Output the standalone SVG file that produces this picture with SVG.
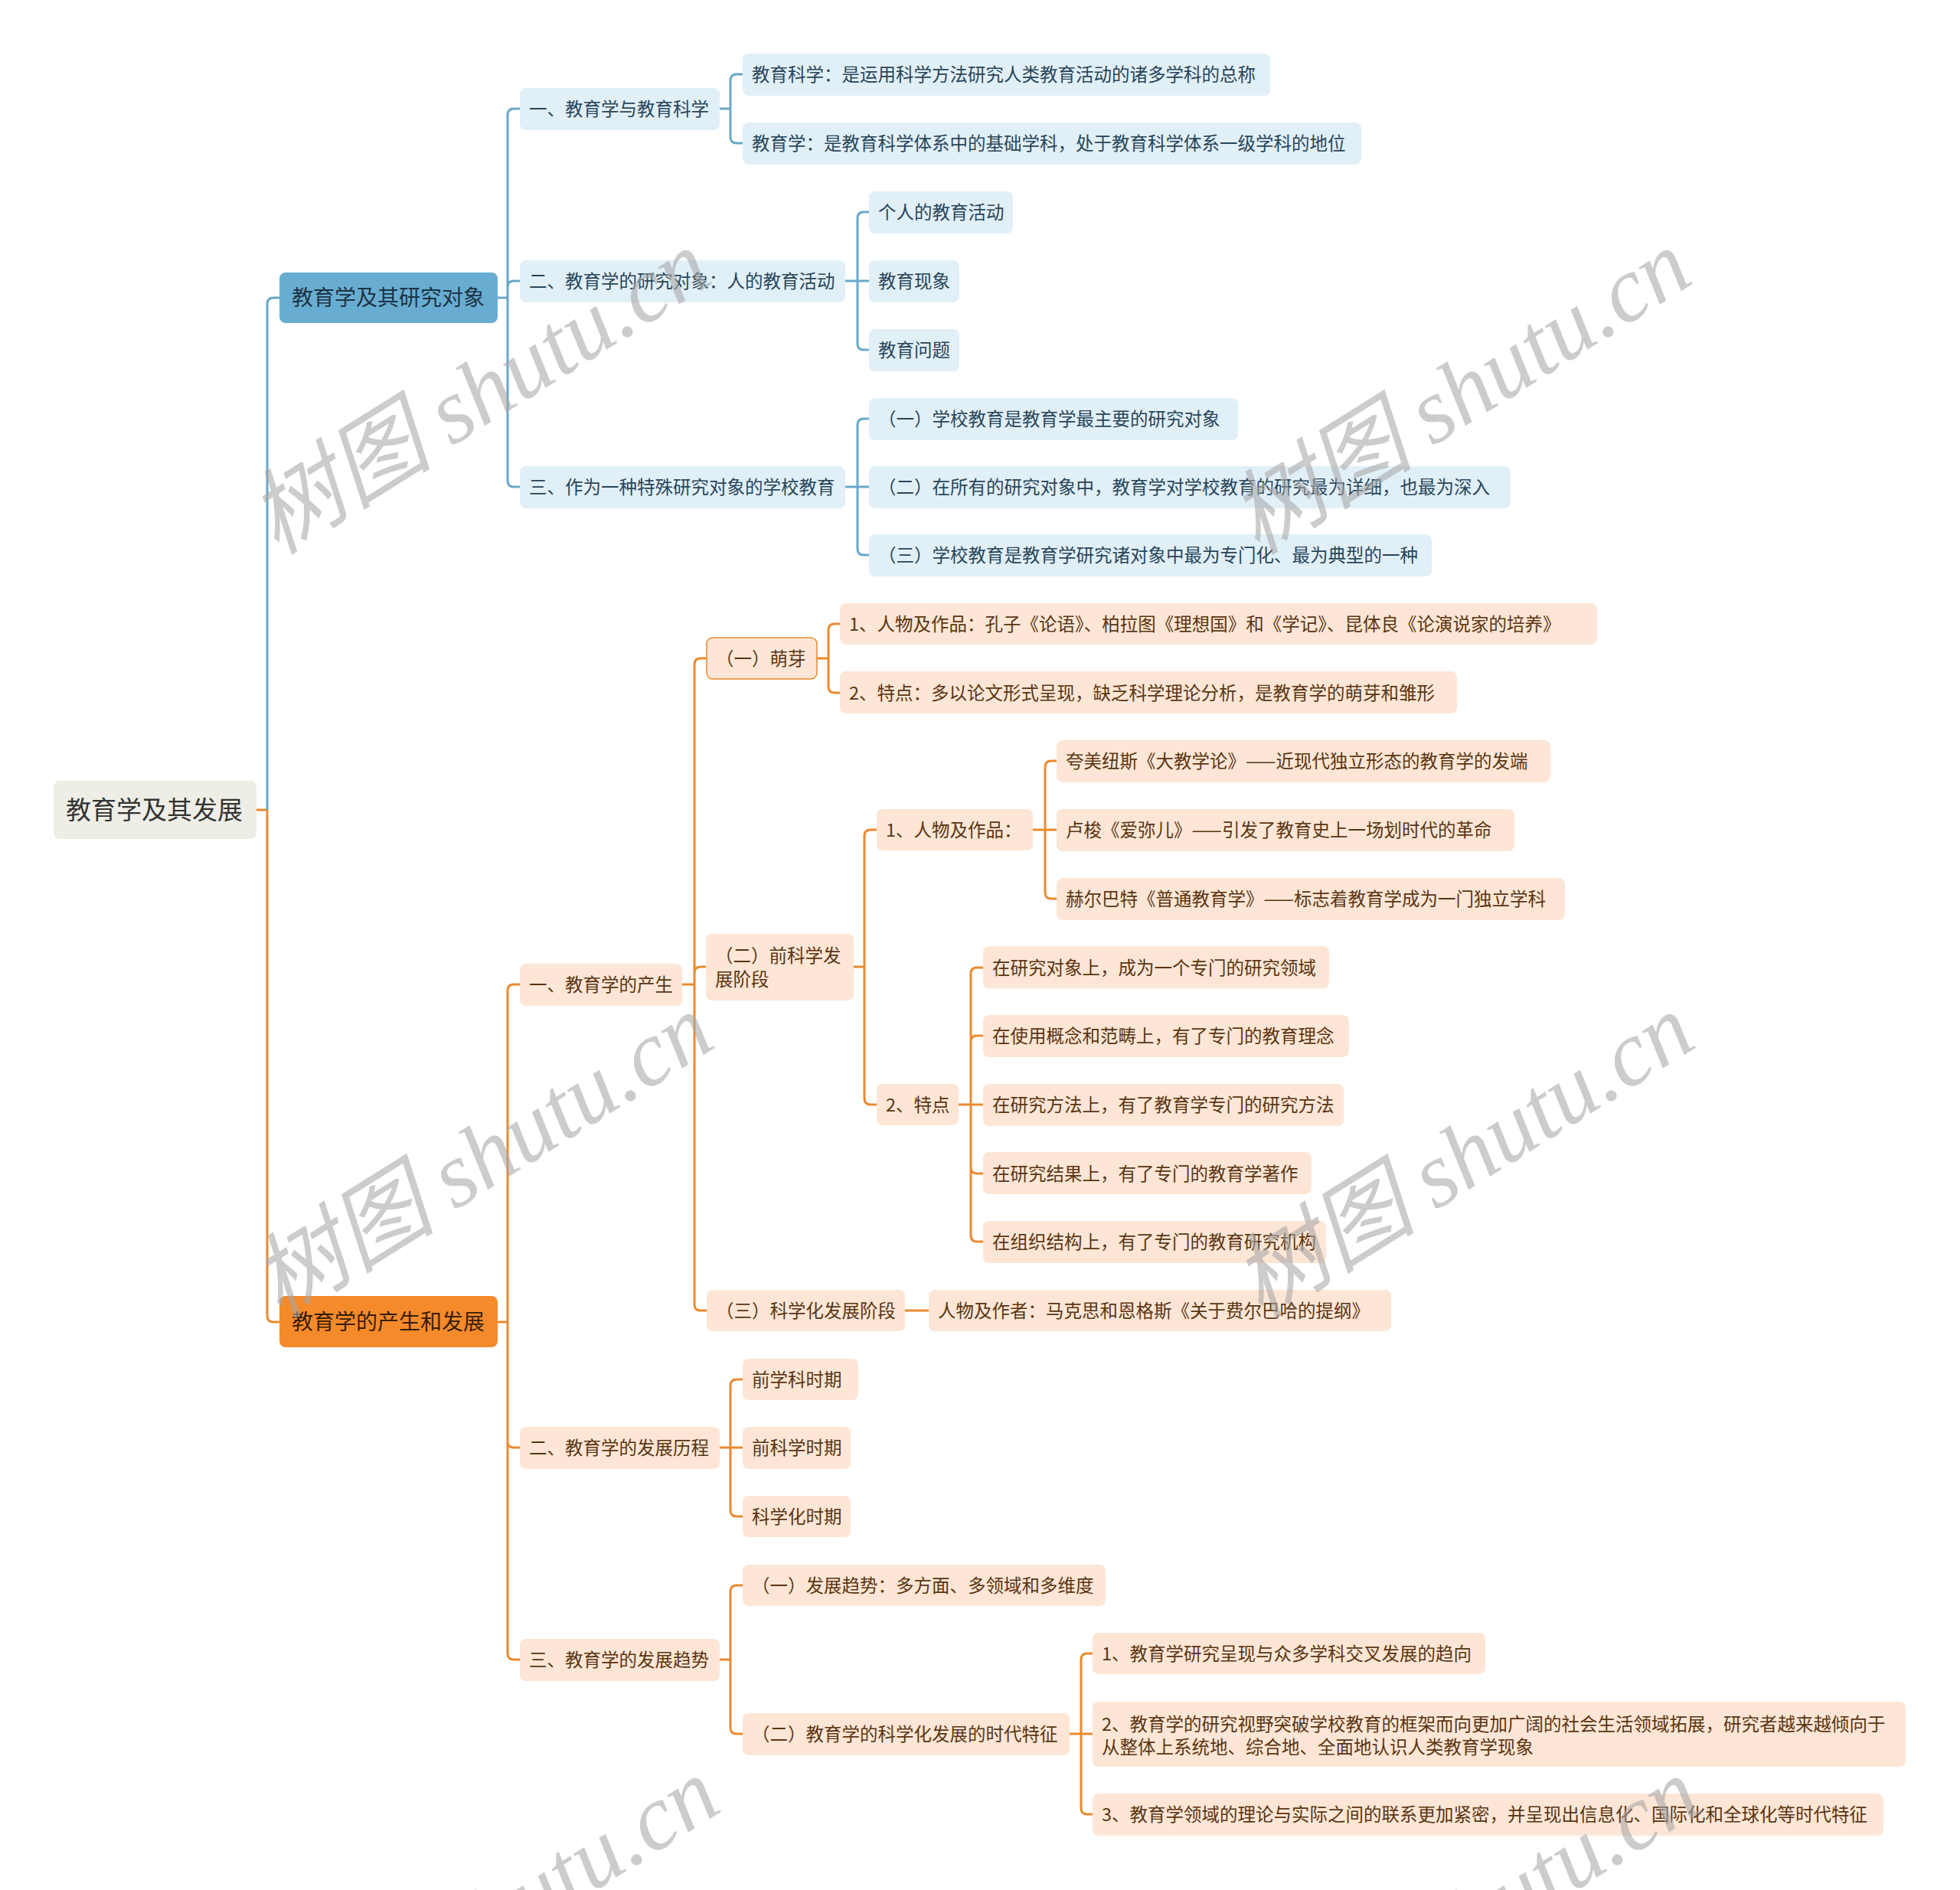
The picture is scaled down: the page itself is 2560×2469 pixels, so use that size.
<svg xmlns="http://www.w3.org/2000/svg" width="2560" height="2469" viewBox="0 0 2560 2469">
<style>
text{font-family:"Noto Sans CJK SC","Noto Sans",sans-serif;}
.root{fill:#eeeee6}
.rt{font-size:33px;fill:#333333}
.bl1{fill:#68add1}
.ol1{fill:#f58a2b}
.t1{font-size:28px}
.bt1{fill:#1c3345}
.ot1{fill:#3a1e05}
.bn{fill:#e1eff7}
.on{fill:#fde6d5}
.onb{fill:#fde6d5;stroke:#e8892e;stroke-width:1.5}
.bt{font-size:23.5px;fill:#284659}
.ot{font-size:23.5px;fill:#5a3513}
.cb{fill:none;stroke:#69a8c8;stroke-width:3}
.co{fill:none;stroke:#ea8a2f;stroke-width:3}
.wm{font-size:121px;fill:#a8a8a8;opacity:0.58;font-style:italic}
</style>
<rect width="2560" height="2469" fill="#ffffff"/>
<g id="connectors">
<path class="co" d="M335,1058 H349"/>
<path class="cb" d="M349,1058 V397 Q349,389 357,389 H365"/>
<path class="co" d="M349,1058 V1719 Q349,1727 357,1727 H365"/>
<path class="cb" d="M650,389 H663 M663,389 V150 Q663,142 671,142 H679 M663,389 V375 Q663,367 671,367 H679 M663,389 V628 Q663,636 671,636 H679"/>
<path class="cb" d="M940,142 H954 M954,142 V105 Q954,97 962,97 H970 M954,142 V179 Q954,187 962,187 H970"/>
<path class="cb" d="M1104,367 H1135 M1120,367 V285 Q1120,277 1128,277 H1135 M1120,367 V449 Q1120,457 1128,457 H1135"/>
<path class="cb" d="M1104,636 H1135 M1120,636 V555 Q1120,547 1128,547 H1135 M1120,636 V717 Q1120,725 1128,725 H1135"/>
<path class="co" d="M650,1727 H663 M663,1727 V1294 Q663,1286 671,1286 H679 M663,1727 V1883 Q663,1891 671,1891 H679 M663,1727 V2160 Q663,2168 671,2168 H679"/>
<path class="co" d="M891,1286 H907 M907,1286 V868 Q907,860 915,860 H923 M907,1286 V1271 Q907,1263 915,1263 H922 M907,1286 V1704 Q907,1712 915,1712 H923"/>
<path class="co" d="M1067,860 H1082 M1082,860 V823 Q1082,815 1090,815 H1097 M1082,860 V897 Q1082,905 1090,905 H1097"/>
<path class="co" d="M1115,1263 H1129 M1129,1263 V1092 Q1129,1084 1137,1084 H1145 M1129,1263 V1435 Q1129,1443 1137,1443 H1145"/>
<path class="co" d="M1349,1084 H1380 M1365,1084 V1002 Q1365,994 1373,994 H1380 M1365,1084 V1166 Q1365,1174 1373,1174 H1380"/>
<path class="co" d="M1252,1443 H1284 M1268,1443 V1272 Q1268,1264 1276,1264 H1284 M1268,1443 V1361 Q1268,1353 1276,1353 H1284 M1268,1443 V1525 Q1268,1533 1276,1533 H1284 M1268,1443 V1614 Q1268,1622 1276,1622 H1284"/>
<path class="co" d="M1182,1712 H1213"/>
<path class="co" d="M939,1891 H970 M954,1891 V1810 Q954,1802 962,1802 H970 M954,1891 V1973 Q954,1981 962,1981 H970"/>
<path class="co" d="M939,2168 H954 M954,2168 V2079 Q954,2071 962,2071 H970 M954,2168 V2257 Q954,2265 962,2265 H970"/>
<path class="co" d="M1397,2265 H1427 M1412,2265 V2168 Q1412,2160 1420,2160 H1427 M1412,2265 V2362 Q1412,2370 1420,2370 H1427"/>
</g>
<g id="n_root"><rect class="root" x="70" y="1020" width="265" height="76" rx="8"/><text class="rt" x="86" y="1070">教育学及其发展</text></g>
<g id="n_b1"><rect class="bl1" x="365" y="356" width="285" height="66" rx="8"/><text class="t1 bt1" x="381" y="399">教育学及其研究对象</text></g>
<g id="n_b2_1"><rect class="bn" x="679" y="115" width="261" height="55" rx="8"/><text class="bt" x="691" y="151">一、教育学与教育科学</text></g>
<g id="n_b2_2"><rect class="bn" x="679" y="340" width="425" height="55" rx="8"/><text class="bt" x="691" y="376">二、教育学的研究对象：人的教育活动</text></g>
<g id="n_b2_3"><rect class="bn" x="679" y="609" width="425" height="55" rx="8"/><text class="bt" x="691" y="645">三、作为一种特殊研究对象的学校教育</text></g>
<g id="n_b3_1"><rect class="bn" x="970" y="70" width="689" height="55" rx="8"/><text class="bt" x="982" y="106">教育科学：是运用科学方法研究人类教育活动的诸多学科的总称</text></g>
<g id="n_b3_2"><rect class="bn" x="970" y="160" width="808" height="55" rx="8"/><text class="bt" x="982" y="196">教育学：是教育科学体系中的基础学科，处于教育科学体系一级学科的地位</text></g>
<g id="n_b3_3"><rect class="bn" x="1135" y="250" width="188" height="55" rx="8"/><text class="bt" x="1147" y="286">个人的教育活动</text></g>
<g id="n_b3_4"><rect class="bn" x="1135" y="340" width="118" height="55" rx="8"/><text class="bt" x="1147" y="376">教育现象</text></g>
<g id="n_b3_5"><rect class="bn" x="1135" y="430" width="118" height="55" rx="8"/><text class="bt" x="1147" y="466">教育问题</text></g>
<g id="n_b3_6"><rect class="bn" x="1135" y="520" width="482" height="55" rx="8"/><text class="bt" x="1147" y="556">（一）学校教育是教育学最主要的研究对象</text></g>
<g id="n_b3_7"><rect class="bn" x="1135" y="609" width="838" height="55" rx="8"/><text class="bt" x="1147" y="645">（二）在所有的研究对象中，教育学对学校教育的研究最为详细，也最为深入</text></g>
<g id="n_b3_8"><rect class="bn" x="1135" y="698" width="735" height="55" rx="8"/><text class="bt" x="1147" y="734">（三）学校教育是教育学研究诸对象中最为专门化、最为典型的一种</text></g>
<g id="n_o1"><rect class="ol1" x="365" y="1693" width="285" height="67" rx="8"/><text class="t1 ot1" x="381" y="1737">教育学的产生和发展</text></g>
<g id="n_o2_1"><rect class="on" x="679" y="1259" width="212" height="55" rx="8"/><text class="ot" x="691" y="1295">一、教育学的产生</text></g>
<g id="n_o2_2"><rect class="on" x="679" y="1864" width="261" height="55" rx="8"/><text class="ot" x="691" y="1900">二、教育学的发展历程</text></g>
<g id="n_o2_3"><rect class="on" x="679" y="2141" width="261" height="55" rx="8"/><text class="ot" x="691" y="2177">三、教育学的发展趋势</text></g>
<g id="n_o3_1"><rect class="onb" x="923" y="833" width="144" height="54" rx="8"/><text class="ot" x="935" y="869">（一）萌芽</text></g>
<g id="n_o3_2"><rect class="on" x="922" y="1220" width="193" height="87" rx="8"/><text class="ot" x="934" y="1257">（二）前科学发</text><text class="ot" x="934" y="1288">展阶段</text></g>
<g id="n_o3_3"><rect class="on" x="923" y="1685" width="259" height="54" rx="8"/><text class="ot" x="935" y="1721">（三）科学化发展阶段</text></g>
<g id="n_o4_1"><rect class="on" x="1213" y="1685" width="604" height="54" rx="8"/><text class="ot" x="1225" y="1721">人物及作者：马克思和恩格斯《关于费尔巴哈的提纲》</text></g>
<g id="n_m1"><rect class="on" x="1097" y="788" width="989" height="54" rx="8"/><text class="ot" x="1109" y="824">1、人物及作品：孔子《论语》、柏拉图《理想国》和《学记》、昆体良《论演说家的培养》</text></g>
<g id="n_m2"><rect class="on" x="1097" y="877" width="806" height="55" rx="8"/><text class="ot" x="1109" y="914">2、特点：多以论文形式呈现，缺乏科学理论分析，是教育学的萌芽和雏形</text></g>
<g id="n_q1"><rect class="on" x="1145" y="1057" width="204" height="54" rx="8"/><text class="ot" x="1157" y="1093">1、人物及作品：</text></g>
<g id="n_q2"><rect class="on" x="1145" y="1416" width="107" height="54" rx="8"/><text class="ot" x="1157" y="1452">2、特点</text></g>
<g id="n_r1"><rect class="on" x="1380" y="967" width="645" height="55" rx="8"/><text class="ot" x="1392" y="1003">夸美纽斯《大教学论》——近现代独立形态的教育学的发端</text></g>
<g id="n_r2"><rect class="on" x="1380" y="1057" width="598" height="55" rx="8"/><text class="ot" x="1392" y="1093">卢梭《爱弥儿》——引发了教育史上一场划时代的革命</text></g>
<g id="n_r3"><rect class="on" x="1380" y="1147" width="664" height="55" rx="8"/><text class="ot" x="1392" y="1183">赫尔巴特《普通教育学》——标志着教育学成为一门独立学科</text></g>
<g id="n_t1"><rect class="on" x="1284" y="1236" width="452" height="55" rx="8"/><text class="ot" x="1296" y="1273">在研究对象上，成为一个专门的研究领域</text></g>
<g id="n_t2"><rect class="on" x="1284" y="1326" width="478" height="55" rx="8"/><text class="ot" x="1296" y="1362">在使用概念和范畴上，有了专门的教育理念</text></g>
<g id="n_t3"><rect class="on" x="1284" y="1416" width="471" height="55" rx="8"/><text class="ot" x="1296" y="1452">在研究方法上，有了教育学专门的研究方法</text></g>
<g id="n_t4"><rect class="on" x="1284" y="1505" width="429" height="55" rx="8"/><text class="ot" x="1296" y="1542">在研究结果上，有了专门的教育学著作</text></g>
<g id="n_t5"><rect class="on" x="1284" y="1595" width="448" height="55" rx="8"/><text class="ot" x="1296" y="1631">在组织结构上，有了专门的教育研究机构</text></g>
<g id="n_h1"><rect class="on" x="970" y="1775" width="151" height="54" rx="8"/><text class="ot" x="982" y="1811">前学科时期</text></g>
<g id="n_h2"><rect class="on" x="970" y="1864" width="141" height="55" rx="8"/><text class="ot" x="982" y="1900">前科学时期</text></g>
<g id="n_h3"><rect class="on" x="970" y="1954" width="141" height="54" rx="8"/><text class="ot" x="982" y="1990">科学化时期</text></g>
<g id="n_d1"><rect class="on" x="970" y="2044" width="474" height="54" rx="8"/><text class="ot" x="982" y="2080">（一）发展趋势：多方面、多领域和多维度</text></g>
<g id="n_d2"><rect class="on" x="970" y="2238" width="427" height="55" rx="8"/><text class="ot" x="982" y="2274">（二）教育学的科学化发展的时代特征</text></g>
<g id="n_s1"><rect class="on" x="1427" y="2133" width="513" height="54" rx="8"/><text class="ot" x="1439" y="2169">1、教育学研究呈现与众多学科交叉发展的趋向</text></g>
<g id="n_s2"><rect class="on" x="1427" y="2223" width="1062" height="85" rx="8"/><text class="ot" x="1439" y="2261">2、教育学的研究视野突破学校教育的框架而向更加广阔的社会生活领域拓展，研究者越来越倾向于</text><text class="ot" x="1439" y="2291">从整体上系统地、综合地、全面地认识人类教育学现象</text></g>
<g id="n_s3"><rect class="on" x="1427" y="2343" width="1033" height="55" rx="8"/><text class="ot" x="1439" y="2379">3、教育学领域的理论与实际之间的联系更加紧密，并呈现出信息化、国际化和全球化等时代特征</text></g>
<g id="watermarks">
<text class="wm" text-anchor="middle" transform="translate(648,547) rotate(-32)">树图 <tspan font-family="Liberation Serif">shutu.cn</tspan></text>
<text class="wm" text-anchor="middle" transform="translate(1929,547) rotate(-32)">树图 <tspan font-family="Liberation Serif">shutu.cn</tspan></text>
<text class="wm" text-anchor="middle" transform="translate(652,1545) rotate(-32)">树图 <tspan font-family="Liberation Serif">shutu.cn</tspan></text>
<text class="wm" text-anchor="middle" transform="translate(1933,1545) rotate(-32)">树图 <tspan font-family="Liberation Serif">shutu.cn</tspan></text>
<text class="wm" text-anchor="middle" transform="translate(660,2543) rotate(-32)">树图 <tspan font-family="Liberation Serif">shutu.cn</tspan></text>
<text class="wm" text-anchor="middle" transform="translate(1941,2543) rotate(-32)">树图 <tspan font-family="Liberation Serif">shutu.cn</tspan></text>
</g>
</svg>
